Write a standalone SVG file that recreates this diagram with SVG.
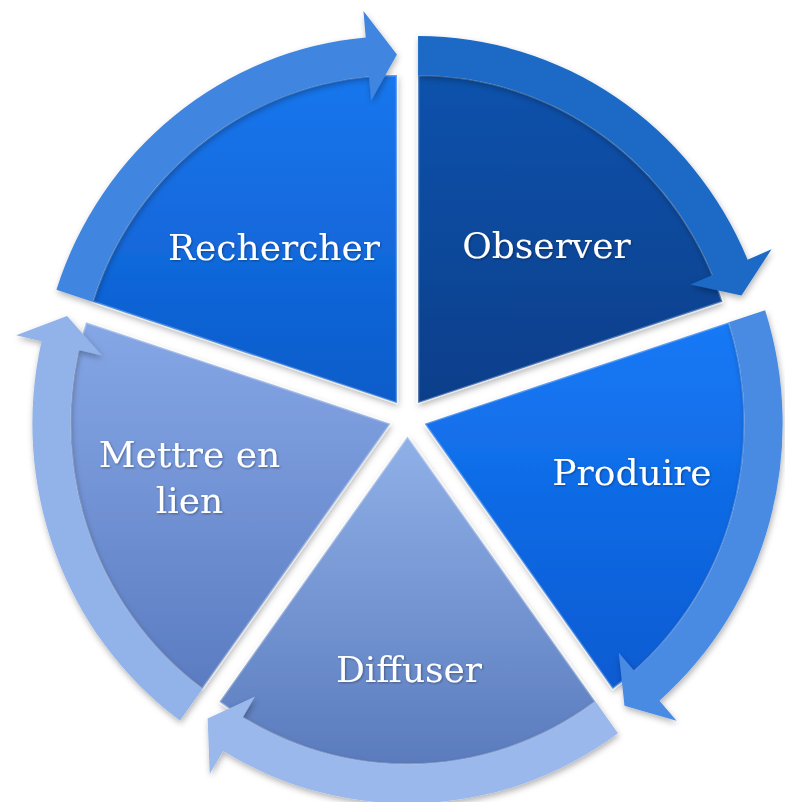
<svg xmlns="http://www.w3.org/2000/svg" width="785" height="802" viewBox="0 0 785 802">
<defs>
<linearGradient id="gObs" x1="0" y1="0" x2="0" y2="1"><stop offset="0" stop-color="#0c52ac"/><stop offset="1" stop-color="#073e8a"/></linearGradient>
<linearGradient id="gPro" x1="0" y1="0" x2="0" y2="1"><stop offset="0" stop-color="#1679f6"/><stop offset="1" stop-color="#0a5bd2"/></linearGradient>
<linearGradient id="gDif" x1="0" y1="0" x2="0" y2="1"><stop offset="0" stop-color="#90b0e8"/><stop offset="1" stop-color="#5a7bbd"/></linearGradient>
<linearGradient id="gMet" x1="0" y1="0" x2="0" y2="1"><stop offset="0" stop-color="#86a7e6"/><stop offset="1" stop-color="#5b7cc1"/></linearGradient>
<linearGradient id="gRec" x1="0" y1="0" x2="0" y2="1"><stop offset="0" stop-color="#1a76ee"/><stop offset="1" stop-color="#0b5cca"/></linearGradient>
<filter id="sh" x="-10%" y="-10%" width="120%" height="120%"><feDropShadow dx="1" dy="3" stdDeviation="3" flood-color="#000" flood-opacity="0.3"/></filter>
<filter id="tsh" x="-10%" y="-20%" width="120%" height="140%"><feDropShadow dx="1" dy="1" stdDeviation="1" flood-color="#000" flood-opacity="0.35"/></filter>
</defs>
<style>
.pie{stroke:#ffffff;stroke-opacity:0.28;stroke-width:2.5;stroke-linejoin:round;filter:url(#sh)}
.band{filter:url(#sh)}
.lbl{font-family:"DejaVu Serif","Liberation Serif",serif;font-size:36px;fill:#ffffff;text-anchor:middle;filter:url(#tsh)}
</style>
<g id="observer">
<path class="pie" fill="url(#gObs)" d="M418.08,403.07 L418.08,75.07 A320,328 0 0 1 722.42,301.71 Z"/>
<text class="lbl" x="546.5" y="258">Observer</text>
</g>
<g id="produire">
<path class="pie" fill="url(#gPro)" d="M424.62,423.70 L728.96,322.34 A320,328 0 0 1 612.71,689.06 Z"/>
<text class="lbl" x="632" y="485">Produire</text>
</g>
<g id="diffuser">
<path class="pie" fill="url(#gDif)" d="M407.5,436.45 L595.59,701.81 A320,328 0 0 1 219.41,701.81 Z"/>
<text class="lbl" x="409" y="682">Diffuser</text>
</g>
<g id="mettre">
<path class="pie" fill="url(#gMet)" d="M390.38,423.70 L202.29,689.06 A320,328 0 0 1 86.04,322.34 Z"/>
<text class="lbl" x="189.5" y="467">Mettre en</text>
<text class="lbl" x="189.5" y="513">lien</text>
</g>
<g id="rechercher">
<path class="pie" fill="url(#gRec)" d="M396.92,403.07 L92.58,301.71 A320,328 0 0 1 396.92,75.07 Z"/>
<text class="lbl" x="274" y="260">Rechercher</text>
</g>
<g id="connectors">
<path class="band" fill="#1a6ac6" d="M418.08,36.12 A358,366.95 0 0 1 747.62,259.69 L771.55,249.28 L741.44,295.38 L690.55,284.52 L712.64,274.91 A320,328 0 0 0 418.08,75.07 Z"/>
<path class="band" fill="#4a8be3" d="M765.10,310.31 A358,366.95 0 0 1 659.49,700.64 L676.55,720.75 L624.47,705.64 L618.81,652.68 L634.56,671.24 A320,328 0 0 0 728.96,322.34 Z"/>
<path class="band" fill="#9ab8ec" d="M617.92,733.32 A358,366.95 0 0 1 223.12,750.99 L209.73,773.83 L207.65,718.39 L255.05,696.51 L242.69,717.60 A320,328 0 0 0 595.59,701.81 Z"/>
<path class="band" fill="#92b2ea" d="M179.96,720.57 A358,366.95 0 0 1 41.56,341.15 L16.22,335.16 L67.02,316.01 L101.97,355.45 L78.58,349.92 A320,328 0 0 0 202.29,689.06 Z"/>
<path class="band" fill="#3f85df" d="M56.44,289.68 A358,366.95 0 0 1 365.72,37.52 L363.45,10.97 L396.92,54.57 L371.12,100.82 L369.03,76.32 A320,328 0 0 0 92.58,301.71 Z"/>
</g>
</svg>
